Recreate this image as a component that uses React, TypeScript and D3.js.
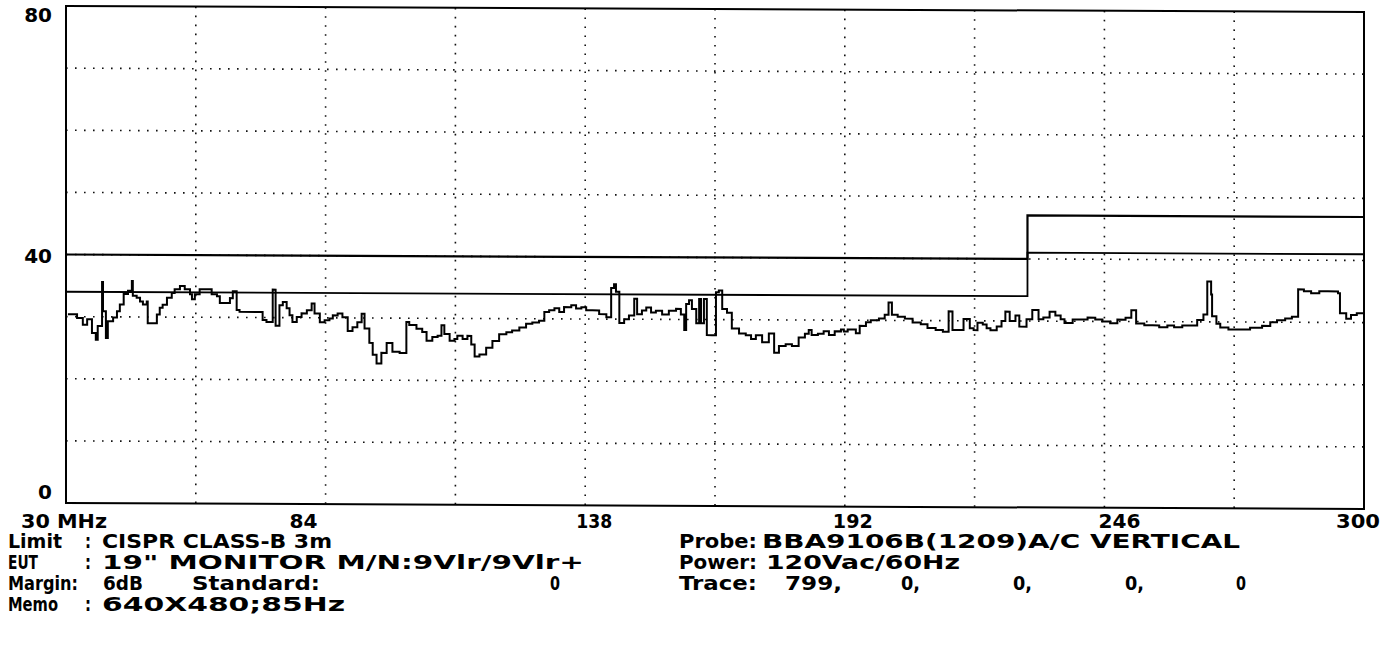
import React from "react";
import * as d3 from "d3";

// ---- Data ----
const freqMHz = [
  30.4, 32.3, 33.5, 34.4, 35.4, 36.2, 36.6, 37.5, 37.7, 38.3, 38.7, 39.8, 40.6, 41.2, 42.0, 42.9,
  43.7, 43.9, 44.7, 45.4, 46.0, 46.8, 47.0, 48.1, 48.9, 49.5, 50.1, 51.0, 52.0, 52.6, 53.7, 54.7,
  55.8, 56.2, 56.8, 57.8, 59.3, 60.3, 61.4, 62.0, 63.0, 64.1, 64.7, 65.5, 66.1, 70.3, 70.9, 71.7,
  72.8, 73.0, 73.6, 74.4, 75.1, 75.9, 76.5, 77.1, 78.0, 79.0, 80.1, 81.1, 81.7, 82.8, 83.8, 84.8,
  85.5, 86.5, 87.5, 88.6, 89.6, 90.6, 91.5, 92.1, 93.1, 93.8, 94.6, 95.6, 96.7, 97.9, 99.4,
  100.0, 100.8, 101.4, 102.9, 104.1, 105.0, 106.2, 107.3, 108.1, 108.7, 109.8, 110.8, 111.4, 112.5,
  113.5, 114.3, 115.0, 116.0, 117.4, 118.7, 120.1, 121.6, 122.8, 124.3, 125.7, 127.0, 128.4, 129.5,
  130.5, 131.6, 132.6, 133.6, 135.1, 136.1, 137.2, 138.2, 139.5, 140.9, 142.4, 143.4, 144.0, 144.4,
  145.1, 146.1, 147.1, 148.2, 148.8, 149.8, 150.7, 151.7, 152.7, 154.0, 155.4, 156.9, 157.9, 158.6,
  159.0, 159.6, 160.2, 161.1, 161.7, 162.1, 162.7, 163.3, 164.4, 165.2, 165.8, 166.5, 167.5, 168.5,
  170.0, 171.4, 172.5, 173.5, 174.8, 176.2, 177.3, 178.3, 179.7, 181.0, 182.4,
  183.7, 184.5, 185.1, 186.4, 187.6, 188.7, 189.9, 191.2, 191.8, 192.6, 194.3, 195.1, 196.4, 197.4,
  199.1, 200.3, 201.1, 201.8, 203.0, 204.5, 206.1, 207.8, 209.2, 210.9, 212.4, 213.6, 214.4, 215.7,
  216.7, 218.0, 218.8, 219.6, 220.7, 221.5, 222.3, 223.6, 224.6, 225.4, 226.3, 227.5, 228.3, 229.8,
  231.0, 232.3, 233.3, 234.6, 235.8, 236.9, 237.7, 239.4, 240.8, 242.5, 244.1, 245.6, 247.2, 248.7,
  250.4, 251.6, 252.6, 254.3, 256.0, 257.4, 259.1, 260.5, 262.2, 263.9, 265.3, 266.6, 267.4, 268.2,
  268.4, 269.3, 270.1, 271.8, 274.0, 276.3, 278.8, 280.5, 281.9, 283.6, 285.0, 286.3, 287.5, 289.0,
  290.7, 292.5, 294.6, 295.0, 296.3, 297.3, 298.5, 300.0,
];
const levelDb = [
  30.4, 29.8, 28.7, 29.6, 27.4, 26.3, 28.5, 35.6, 30.9, 26.6, 29.3, 29.9, 30.9, 32.0, 33.7, 34.2,
  35.8, 33.4, 33.1, 32.5, 32.0, 32.5, 29.0, 29.0, 30.4, 31.5, 32.0, 33.1, 33.9, 34.5, 35.0, 34.5,
  33.7, 32.9, 33.7, 34.5, 34.5, 33.7, 33.4, 32.3, 32.3, 33.1, 34.2, 31.2, 30.9, 30.9, 29.6, 29.3,
  29.3, 34.5, 28.7, 32.0, 32.5, 31.5, 30.4, 29.3, 30.1, 30.7, 31.2, 32.3, 30.7, 29.3, 29.6, 29.9,
  30.4, 30.7, 30.1, 27.9, 28.5, 29.3, 30.7, 28.3, 26.0, 24.1, 22.7, 24.4, 26.0, 24.6, 24.4,
  24.4, 29.4, 28.9, 28.3, 27.8, 26.4, 27.0, 27.2, 28.9, 27.5, 26.4, 26.7, 27.2, 26.7,
  27.2, 25.8, 23.9, 24.2, 25.3, 26.4, 27.5, 27.8, 28.1, 28.6, 29.2, 29.4, 29.7, 31.1,
  31.4, 31.7, 31.1, 31.9, 32.2, 31.7, 31.9, 31.4, 31.4, 30.8, 30.3, 35.0, 35.6, 34.4,
  29.4, 30.0, 30.6, 33.3, 30.8, 31.4, 31.9, 31.1, 31.4, 30.8, 31.4, 31.7, 30.8, 28.3,
  32.5, 33.1, 31.7, 29.4, 33.3, 29.4, 33.3, 27.5, 27.5, 34.4, 34.7, 31.7, 31.1, 28.6,
  27.8, 27.5, 26.9, 27.5, 26.4, 27.8, 24.7, 25.8, 26.1, 25.8, 27.2,
  27.8, 28.4, 27.6, 27.8, 28.2, 27.6, 28.2, 28.5, 28.2, 28.5, 27.9, 29.1, 29.7, 30.0,
  30.3, 30.9, 32.9, 30.9, 30.6, 30.3, 29.7, 29.4, 28.8, 28.5, 28.2, 31.5, 28.5, 28.5,
  30.3, 28.8, 28.5, 29.7, 29.4, 28.8, 28.5, 29.1, 30.0, 31.5, 30.0, 30.9, 29.1, 30.3,
  31.8, 30.3, 30.6, 31.5, 30.9, 30.3, 29.7, 30.3, 30.3, 30.6, 30.3, 30.0, 29.7, 30.3,
  30.6, 31.8, 29.7, 29.4, 29.4, 29.1, 29.4, 29.1, 29.4, 29.4, 30.3, 31.2, 36.5, 34.4,
  30.9, 29.7, 29.1, 28.8, 28.8, 29.1, 29.4, 30.0, 30.3, 30.6, 30.9, 35.3, 35.0, 34.7,
  35.0, 35.0, 34.7, 31.5, 30.6, 31.2, 31.5, 31.0,
];

const limitFreq = [30, 230, 230, 300];
const limitDb = [40, 40, 47, 47];
const marginDb = [34, 34, 41, 41];

const xTickValues = [30, 84, 138, 192, 246, 300];
const xTickLabels = ["30 MHz", "84", "138", "192", "246", "300"];
const yTickValues = [0, 40, 80];
const yTickLabels = ["0", "40", "80"];

const infoLeft = [
  ["Limit", ":", "CISPR CLASS-B 3m"],
  ["EUT", ":", "19\" MONITOR M/N:9Vlr/9Vlr+"],
  ["Margin:", "6dB", "Standard:", "0"],
  ["Memo", ":", "640X480;85Hz"],
];
const infoRight = [
  ["Probe:", "BBA9106B(1209)A/C VERTICAL"],
  ["Power:", "120Vac/60Hz"],
  ["Trace:", "799,", "0,", "0,", "0,", "0"],
];

// ---- Layout ----
const W = 1394;
const H = 658;
const M = { left: 66, right: 1364, top: 6, bottom: 503 };
const SKEW = 0.0046; // slight slant of the scanned plot frame
const FS = 19;
const tickLabelDx = [-45, -36, -9, -12, -6, -28];
const tickLabelW = [86, 28, 36, 40, 42, 44];
const yLabelDy = [-4, 8, 16];
const tickRowY = 528;
const rowY = [548, 569, 590, 611];
const leftLayout = [
  [[8, 54], [85, 6], [102, 230]],
  [[8, 30], [85, 6], [102, 482]],
  [[8, 70], [103, 40], [192, 128], [550, 10]],
  [[8, 50], [85, 6], [102, 243]],
];
const rightLayout = [
  [[679, 78], [762, 478]],
  [[679, 78], [766, 194]],
  [[679, 78], [785, 57], [901, 19], [1013, 19], [1125, 19], [1236, 10]],
];

const FONT = "'DejaVu Sans', 'Liberation Sans', sans-serif";

export default function App() {
  const x = d3.scaleLinear().domain([30, 300]).range([M.left, M.right]);
  const y = d3.scaleLinear().domain([0, 80]).range([M.bottom, M.top]);

  const traceData = freqMHz.map((f, i) => [f, levelDb[i]] as [number, number]);
  const line = d3
    .line<[number, number]>()
    .x((d) => x(d[0]))
    .y((d) => y(d[1]))
    .curve(d3.curveStepAfter);
  const straight = d3
    .line<[number, number]>()
    .x((d) => x(d[0]))
    .y((d) => y(d[1]));

  const limitPath = straight(limitFreq.map((f, i) => [f, limitDb[i]] as [number, number]));
  const marginPath = straight(limitFreq.map((f, i) => [f, marginDb[i]] as [number, number]));

  const vGrid = d3.range(30 + 27, 300, 27);
  const hGrid = d3.range(10, 80, 10);

  const txt = (s: string, xx: number, yy: number, w: number, key: string) => (
    <text
      key={key}
      x={xx}
      y={yy}
      textLength={w}
      lengthAdjust="spacingAndGlyphs"
      fontFamily={FONT}
      fontWeight="bold"
      fontSize={FS}
      fill="#000"
      style={{ whiteSpace: "pre" }}
    >
      {s}
    </text>
  );

  return (
    <svg
      width={W}
      height={H}
      viewBox={`0 0 ${W} ${H}`}
      style={{ position: "absolute", left: 0, top: 0, background: "#fff" }}
    >
      <rect x={0} y={0} width={W} height={H} fill="#fff" />
      <g transform={`matrix(1, ${SKEW}, 0, 1, 0, ${-SKEW * M.left})`}>
        {/* grid */}
        <g stroke="#111" strokeWidth={1.6} strokeDasharray="1.6 7.4">
          {vGrid.map((v) => (
            <line key={"v" + v} x1={x(v)} x2={x(v)} y1={M.top} y2={M.bottom} />
          ))}
          {hGrid.map((v) => (
            <line key={"h" + v} x1={M.left} x2={M.right} y1={y(v)} y2={y(v)} />
          ))}
        </g>
        {/* frame */}
        <rect
          x={M.left}
          y={M.top}
          width={M.right - M.left}
          height={M.bottom - M.top}
          fill="none"
          stroke="#000"
          strokeWidth={2}
        />
        {/* limit and margin */}
        <path d={limitPath ?? ""} fill="none" stroke="#000" strokeWidth={2.2} />
        <path d={marginPath ?? ""} fill="none" stroke="#000" strokeWidth={1.8} />
        {/* trace */}
        <path d={line(traceData) ?? ""} fill="none" stroke="#000" strokeWidth={2} />
      </g>
      {/* y labels */}
      {yTickValues.map((v, i) => (
        <text
          key={"yl" + v}
          x={M.left - 14}
          y={y(v) + yLabelDy[i]}
          textAnchor="end"
          fontFamily={FONT}
          fontWeight="bold"
          fontSize={20}
        >
          {yTickLabels[i]}
        </text>
      ))}
      {/* x labels */}
      {xTickValues.map((v, i) =>
        txt(xTickLabels[i], x(v) + tickLabelDx[i], tickRowY, tickLabelW[i], "xl" + v)
      )}
      {/* info */}
      {infoLeft.map((row, r) =>
        row.map((s, c) => txt(s, leftLayout[r][c][0], rowY[r], leftLayout[r][c][1], `L${r}-${c}`))
      )}
      {infoRight.map((row, r) =>
        row.map((s, c) => txt(s, rightLayout[r][c][0], rowY[r], rightLayout[r][c][1], `R${r}-${c}`))
      )}
    </svg>
  );
}
